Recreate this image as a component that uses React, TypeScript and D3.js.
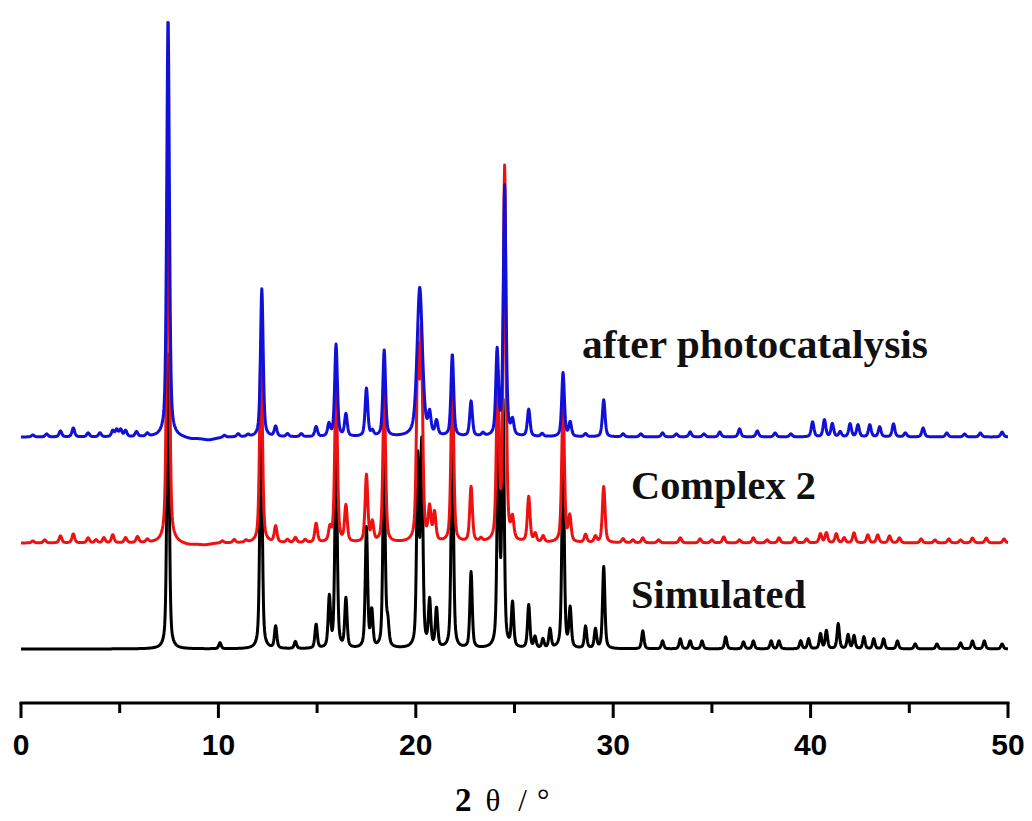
import React from 'react'
import * as d3 from 'd3'

// peak lists: [2θ, height (a.u.), optional FWHM]
type Peak = [number, number, number?]

const simulatedPeaks: Peak[] = [
  [7.45, 300], [10.08, 6], [12.16, 250], [12.9, 22], [13.9, 7], [14.95, 24],
  [15.62, 50], [15.96, 200], [16.46, 49], [17.5, 120], [17.77, 36], [18.39, 190],
  [18.58, 22], [20.1, 186], [20.3, 200], [20.7, 46], [21.05, 39], [21.85, 220],
  [22.8, 76], [24.18, 232], [24.42, 240], [24.9, 44], [25.72, 43], [26.04, 11],
  [26.44, 9], [26.8, 19], [27.46, 200], [27.82, 39], [28.6, 22], [29.1, 19],
  [29.52, 82], [31.5, 18], [32.5, 8], [33.4, 10], [33.9, 8], [34.5, 8], [35.7, 12],
  [36.6, 7], [37.1, 8], [38.0, 8], [38.4, 8], [39.5, 8], [39.9, 10], [40.5, 15],
  [40.8, 18], [41.4, 25], [41.9, 14], [42.2, 13], [42.7, 12], [43.2, 10], [43.7, 10],
  [44.4, 8], [45.3, 5], [46.4, 5], [47.6, 6], [48.2, 8], [48.8, 8], [49.7, 5]
]

const complexPeaks: Peak[] = [
  [0.6, 2], [1.2, 3], [2.0, 7], [2.65, 9], [3.4, 5], [3.8, 3], [4.2, 5], [4.65, 8],
  [5.3, 5], [5.9, 6], [6.4, 3], [7.45, 400], [8.5, -2, 0.8], [9.3, -2, 0.8], [10.2, 2],
  [10.8, 3], [11.4, 2], [12.16, 200], [12.9, 16], [13.5, 3], [13.9, 5], [14.4, 3],
  [14.95, 19], [15.65, 13], [15.96, 160], [16.46, 36], [17.5, 67], [17.8, 19],
  [18.4, 150], [20.1, 180], [20.28, 200], [20.7, 32], [20.95, 28], [21.85, 170],
  [22.8, 55], [23.3, 3], [24.15, 165], [24.5, 373], [24.9, 20], [25.72, 45], [26.05, 8],
  [26.45, 6], [27.46, 140], [27.8, 25], [28.6, 8], [29.1, 6], [29.52, 56], [30.5, 4],
  [31.0, 3], [31.5, 5], [32.3, 3], [33.4, 5], [34.4, 4], [35.0, 3], [35.6, 6], [36.4, 3],
  [37.1, 5], [37.8, 3], [38.4, 5], [39.2, 5], [39.8, 4], [40.5, 9], [40.8, 10], [41.3, 9],
  [41.7, 5], [42.2, 10], [42.9, 8], [43.4, 8], [44.0, 7], [44.5, 5], [45.6, 4], [46.3, 3],
  [47.0, 4], [47.6, 3], [48.2, 5], [48.9, 5], [49.8, 4]
]

const afterPeaks: Peak[] = [
  [0.6, 2], [1.3, 3], [2.0, 6], [2.65, 9], [3.4, 4], [4.0, 4], [4.65, 6], [4.85, 7],
  [5.05, 7], [5.3, 6], [5.85, 5], [6.4, 3], [7.45, 420], [8.6, -2, 0.8], [9.5, -3, 0.9],
  [10.3, 2], [11.0, 3], [11.5, 2], [12.2, 148], [12.9, 10], [13.5, 3], [14.2, 3],
  [14.95, 10], [15.6, 12], [15.96, 92], [16.46, 22], [17.5, 48], [17.8, 5], [18.4, 86],
  [20.2, 149, 0.32], [20.7, 20], [21.05, 14], [21.85, 82], [22.8, 35], [23.4, 3],
  [24.12, 84], [24.5, 250], [24.9, 14], [25.72, 27], [26.4, 3], [27.46, 64], [27.82, 14],
  [28.6, 3], [29.52, 37], [30.5, 3], [31.4, 3], [32.5, 4], [33.2, 3], [33.9, 5], [34.6, 3],
  [35.4, 5], [36.4, 8], [37.3, 6], [38.2, 4], [39.0, 3], [40.1, 15], [40.7, 17], [41.1, 13],
  [41.5, 5], [42.0, 13], [42.4, 12], [43.0, 12], [43.5, 10], [44.2, 13], [44.8, 4],
  [45.7, 9], [46.9, 4], [47.8, 3], [48.6, 4], [49.7, 5]
]

const seriesNames = ['Simulated', 'Complex 2', 'after photocatalysis']
const seriesOffsets = [0, 106, 212]
const seriesColors = ['#000000', '#ee1111', '#1010d8']
const seriesFwhm = [0.14, 0.16, 0.16]
const seriesPeaks = [simulatedPeaks, complexPeaks, afterPeaks]

const xTicks = [0, 10, 20, 30, 40, 50]
const xMinorTicks = [5, 15, 25, 35, 45]

const W = 1032
const H = 821

// pseudo-Voigt sum
const profile = (t: number, peaks: Peak[], fwhm: number) => {
  let s = 0
  for (const [p, h, w] of peaks) {
    const hw = (w ?? fwhm) / 2
    const u = (t - p) / hw
    s += h * (0.5 / (1 + u * u) + 0.5 * Math.exp(-Math.LN2 * u * u))
  }
  return s
}

const App: React.FC = () => {
  const x = d3.scaleLinear().domain([0, 50]).range([21, 1008])
  const y = d3.scaleLinear().domain([0, 632]).range([649, 17])
  const axisY = 703

  const grid = d3.range(0, 50.0001, 0.02)
  const line = d3.line<[number, number]>()
    .x(d => x(d[0]))
    .y(d => y(d[1]))

  const labelPos = [
    { x: 631, y: 608, len: 175 },
    { x: 631, y: 499, len: 185 },
    { x: 582, y: 358, len: 346 }
  ]

  return (
    <svg
      width={W}
      height={H}
      style={{ position: 'absolute', left: 0, top: 0, background: '#fff' }}
    >
      <rect width={W} height={H} fill="#fff" />
      {seriesPeaks.map((peaks, i) => {
        const pts: [number, number][] = grid.map(t => [
          t,
          seriesOffsets[i] + profile(t, peaks, seriesFwhm[i])
        ])
        return (
          <path
            key={seriesNames[i]}
            d={line(pts) || ''}
            fill="none"
            stroke={seriesColors[i]}
            strokeWidth={3}
            strokeLinejoin="round"
          />
        )
      })}

      {seriesNames.map((name, i) => (
        <text
          key={name}
          x={labelPos[i].x}
          y={labelPos[i].y}
          fontFamily="'Liberation Serif', 'Times New Roman', serif"
          fontWeight="bold"
          fontSize={39}
          textLength={labelPos[i].len}
          lengthAdjust="spacingAndGlyphs"
          fill="#111"
        >
          {name}
        </text>
      ))}

      {/* x axis */}
      <line x1={x(0) - 1.5} x2={x(50) + 1.5} y1={axisY} y2={axisY} stroke="#000" strokeWidth={3} />
      {xTicks.map(t => (
        <g key={t}>
          <line x1={x(t)} x2={x(t)} y1={axisY} y2={axisY + 15} stroke="#000" strokeWidth={3} />
          <text
            x={x(t)}
            y={755}
            textAnchor="middle"
            fontFamily="'Liberation Sans', Arial, sans-serif"
            fontWeight="bold"
            fontSize={30}
            fill="#000"
          >
            {t}
          </text>
        </g>
      ))}
      {xMinorTicks.map(t => (
        <line key={t} x1={x(t)} x2={x(t)} y1={axisY} y2={axisY + 10} stroke="#000" strokeWidth={3} />
      ))}
      <text
        x={455}
        y={811}
        fontFamily="'Liberation Serif', 'Times New Roman', serif"
        fontSize={31}
        fill="#000"
      >
        <tspan fontWeight="bold" fontSize={33}>2</tspan>
        <tspan dx={14}>θ</tspan>
        <tspan dx={18}>/</tspan>
        <tspan dx={10}>°</tspan>
      </text>
    </svg>
  )
}

export default App
